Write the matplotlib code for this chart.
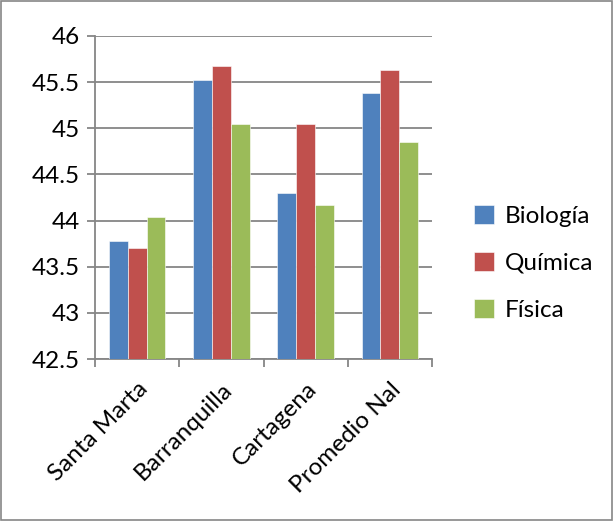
import matplotlib

matplotlib.use("Agg")

import matplotlib.pyplot as plt  # noqa: E402
import numpy as np  # noqa: E402
from matplotlib.patches import Rectangle  # noqa: E402

categories = ["Santa Marta", "Barranquilla", "Cartagena", "Promedio Nal"]
series_names = ["Biología", "Química", "Física"]
biologia = [43.78, 45.52, 44.30, 45.38]
quimica = [43.70, 45.67, 45.05, 45.63]
fisica = [44.04, 45.05, 44.17, 44.85]
y_ticks = [42.5, 43, 43.5, 44, 44.5, 45, 45.5, 46]

COLORS = ["#4f81bd", "#c0504d", "#9bbb59"]
GRID = "#868686"
FS = 17.5

plt.rcParams["font.family"] = ["Lato", "DejaVu Sans"]
plt.rcParams["text.color"] = "black"

fig = plt.figure(figsize=(6.13, 5.21), dpi=100)
ax = fig.add_axes([95 / 613, 1 - 359 / 521, (432 - 95) / 613, (359 - 36) / 521])

x = np.arange(len(categories))
width = 0.223
for i, (name, vals) in enumerate(zip(series_names, [biologia, quimica, fisica])):
    ax.bar(x + (i - 1) * width, [v - 42.5 for v in vals], width, bottom=42.5,
           color=COLORS[i], edgecolor="white", linewidth=0.4, label=name, zorder=3)

ax.set_xlim(-0.5, len(categories) - 0.5)
ax.set_ylim(42.5, 46)
ax.set_yticks(y_ticks)
ax.set_yticklabels([f"{t:g}" for t in y_ticks], fontsize=FS)
ax.yaxis.grid(True, color=GRID, linewidth=1.3, zorder=0)
ax.set_axisbelow(True)

# category boundaries carry the tick marks, labels sit at the centres
ax.set_xticks(np.arange(-0.5, len(categories)), minor=False)
ax.set_xticklabels([])
ax.set_xticks(x, minor=True)
ax.set_xticklabels(categories, minor=True, rotation=45, ha="right",
                   rotation_mode="anchor", fontsize=FS)
ax.tick_params(axis="x", which="minor", length=0, pad=14)
ax.tick_params(axis="x", which="major", length=6, color=GRID, width=1.3)
ax.tick_params(axis="y", length=6, color=GRID, width=1.3, pad=5)

for side in ("top", "right"):
    ax.spines[side].set_visible(False)
for side in ("left", "bottom"):
    ax.spines[side].set_color(GRID)
    ax.spines[side].set_linewidth(1.3)

ax.legend(loc="center left", bbox_to_anchor=(1.06, 0.297), frameon=False,
          fontsize=FS, handlelength=0.8, handleheight=0.8, labelspacing=1.05,
          handletextpad=0.45)

fig.patches.append(Rectangle((0.002, 0.002), 0.996, 0.996, transform=fig.transFigure,
                             fill=False, edgecolor=GRID, linewidth=1.2))

fig.savefig("out.png", dpi=100)
